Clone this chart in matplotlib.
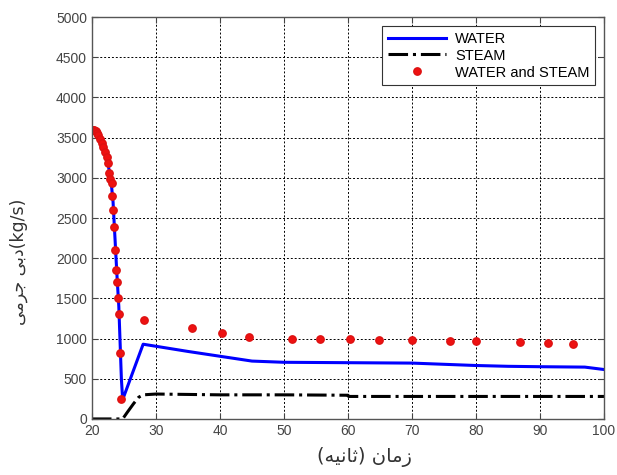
import matplotlib
matplotlib.use('Agg')
import matplotlib.pyplot as plt

# mass flow after the break: liquid, vapour and the two-phase total
water_t = [20.0, 20.5, 21.0, 21.5, 22.0, 22.5, 23.0, 23.3, 23.6, 23.9, 24.2, 24.4,
           24.6, 24.8, 28.0, 35.0, 40.0, 45.0, 50.0, 60.0, 70.0, 75.0, 80.0, 85.0,
           90.0, 97.0, 100.0]
water_q = [3600, 3590, 3540, 3460, 3350, 3180, 2950, 2700, 2250, 1800, 1400, 950,
           500, 240, 930, 840, 780, 720, 705, 700, 695, 680, 665, 655,
           650, 645, 615]

steam_t = [20.0, 24.8, 25.5, 26.5, 27.3, 28.0, 30.0, 40.0, 50.0, 60.0, 60.1, 100.0]
steam_q = [0, 0, 80, 190, 270, 300, 310, 300, 300, 295, 280, 280]

mix_t = [20.0, 20.2, 20.4, 20.6, 20.8, 21.0, 21.3, 21.6, 21.8, 22.0, 22.3, 22.5,
         22.7, 22.9, 23.1, 23.2, 23.3, 23.4, 23.6, 23.8, 23.9, 24.1, 24.3, 24.4,
         24.6, 28.1, 35.6, 40.3, 44.5, 51.3, 55.6, 60.3, 64.8, 70.0, 75.9, 80.0,
         86.8, 91.2, 95.2]
mix_q = [3600, 3600, 3590, 3580, 3560, 3530, 3480, 3430, 3380, 3320, 3260, 3180,
         3060, 2990, 2930, 2770, 2600, 2390, 2100, 1850, 1700, 1500, 1310, 820,
         250, 1230, 1130, 1075, 1020, 1000, 990, 990, 980, 985, 965, 965,
         955, 945, 930]

x_ticks = list(range(20, 101, 10))
y_ticks = list(range(0, 5001, 500))

# Persian labels written in presentation forms, visual order
x_label = '(\ufeea\ufef4\ufee7\ufe8e\ufe9b) \ufee5\ufe8e\ufee3\ufeaf'
y_label = '\ufef0\ufee3\ufeae\ufe9f \ufef0\ufe91\ufea9(kg/s)'

plt.rcParams['font.family'] = ['Liberation Sans', 'DejaVu Sans']

fig = plt.figure(figsize=(6.17, 4.75), dpi=100)
ax = fig.add_axes([0.149, 0.118, 0.830, 0.846])

ax.plot(water_t, water_q, '-', color='#0000ff', lw=2.2, label='WATER')
ax.plot(steam_t, steam_q, '-.', color='black', lw=2.2, label='STEAM')
ax.plot(mix_t, mix_q, 'o', color='#ee1111', ms=5.3, mec='#dd1111',
        ls='none', label='WATER and STEAM')

ax.set_xlim(20, 100)
ax.set_ylim(0, 5000)
ax.set_xticks(x_ticks)
ax.set_yticks(y_ticks)
ax.tick_params(direction='in', top=True, right=True, labelsize=10,
               colors='#444444', length=4)
ax.grid(True, color='black', ls=(0, (2, 2)), lw=0.7)
for s in ax.spines.values():
    s.set_color('#555555')
    s.set_linewidth(1.0)

ax.set_xlabel(x_label, fontsize=14, family=['DejaVu Sans'], color='#333333')
ax.set_ylabel(y_label, fontsize=12.5, family=['DejaVu Sans'], color='#333333')
ax.xaxis.set_label_coords(0.533, -0.07)
ax.yaxis.set_label_coords(-0.125, 0.39)

leg = ax.legend(loc='upper right', fontsize=10.5, fancybox=False,
                edgecolor='#333333', framealpha=1, handlelength=4,
                handletextpad=0.6, borderaxespad=0.6, labelspacing=0.2)
leg.get_frame().set_linewidth(0.8)

fig.savefig('out.png', dpi=100, facecolor='white')
